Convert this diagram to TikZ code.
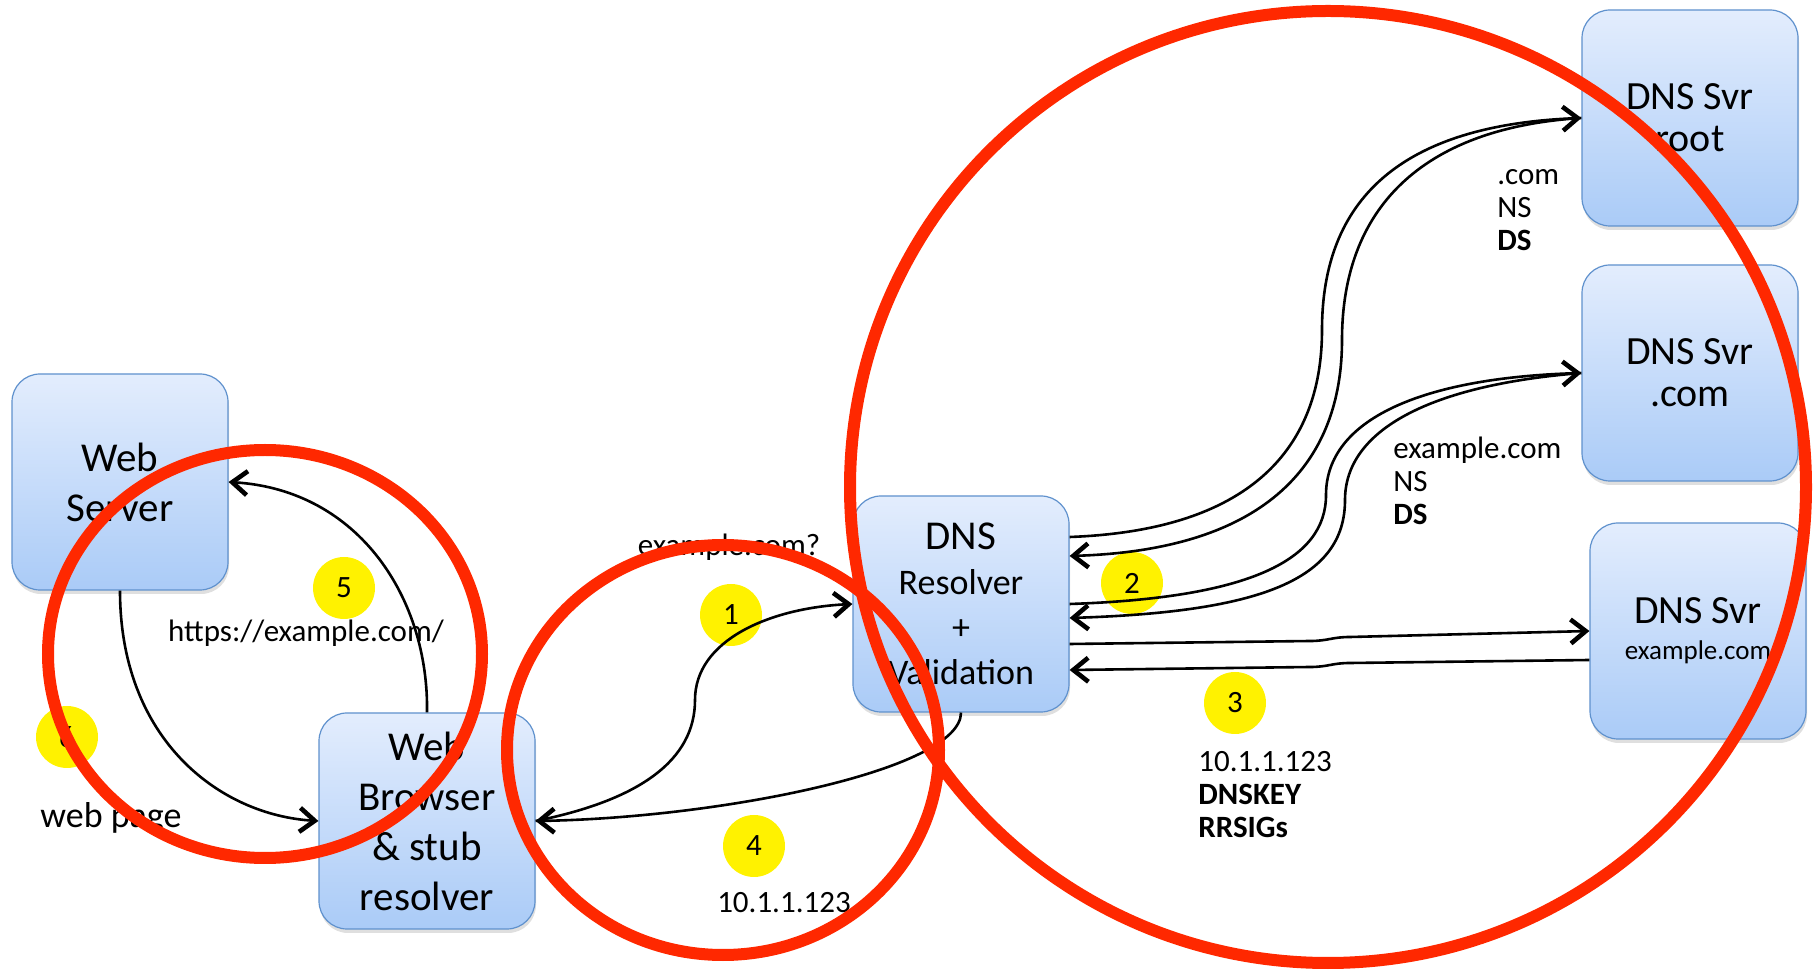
\documentclass[tikz,border=0pt]{standalone}
\usepackage{fontspec}
\setmainfont{Carlito}
\usetikzlibrary{arrows.meta, shadows}

\definecolor{boxtop}{RGB}{227,237,253}
\definecolor{boxbot}{RGB}{170,203,247}
\definecolor{boxline}{RGB}{95,145,205}
\definecolor{ringred}{RGB}{255,40,0}

\begin{document}
\begin{tikzpicture}[x=0.5pt, y=-0.5pt]
	\tikzstyle{hostbox}=[
	draw=boxline,
	line width=0.6pt,
	rounded corners=14pt,
	top color=boxtop,
	bottom color=boxbot,
	drop shadow={shadow xshift=0.5pt, shadow yshift=-2pt, opacity=0.25},
	minimum width=108pt,
	minimum height=108pt,
	inner sep=1pt,
	align=center,
	font=\fontsize{20.5}{25}\selectfont
	]
	\tikzstyle{stepdot}=[
	circle,
	fill=yellow,
	minimum size=31pt,
	inner sep=0pt,
	font=\fontsize{15.5}{18}\selectfont
	]
	\tikzstyle{note}=[
	align=left,
	inner sep=0pt,
	font=\fontsize{15.5}{16.5}\selectfont
	]
	\tikzstyle{flow}=[line width=1.3pt, -{Straight Barb[length=7.5pt, width=12pt, line width=2.3pt]}]
	\tikzstyle{ring}=[draw=ringred, line width=6pt]
	\useasboundingbox (0,0) rectangle (1817,972);
	\node[hostbox] (server) at (120,482) {Web\\Server};
	\node[hostbox] (browser) at (427,821) {Web\\Browser\\\& stub\\resolver};
	\node[hostbox, font=\fontsize{18}{22.5}\selectfont] (resolver) at (961,604) {{\fontsize{20.5}{22.5}\selectfont DNS}\\Resolver\\+\\Validation};
	\node[hostbox, font=\fontsize{20}{21}\selectfont] (root) at (1690,118) {DNS Svr\\root};
	\node[hostbox, font=\fontsize{20}{21}\selectfont] (dotcom) at (1690,373) {DNS Svr\\.com};
	\node[hostbox, font=\fontsize{20}{18}\selectfont] (exsvr) at (1698,631) {DNS Svr\\{\fontsize{13.5}{18}\selectfont example.com}};
	\node[stepdot] (n1) at (731,615) {1};
	\node[stepdot] (n2) at (1132,583) {2};
	\node[stepdot] (n3) at (1235,703) {3};
	\node[stepdot] (n4) at (754,846) {4};
	\node[stepdot] (n5) at (344,588) {5};
	\node[stepdot] (n6) at (67,737) {6};
	\draw[flow] (server.south) .. controls (120,740) and (220,815) .. (browser.west);
	\draw[flow] (browser.north) .. controls (429,600) and (360,490) .. (server.east);
	\draw[flow] (browser.east) .. controls (640,800) and (695,760) .. (695,700) .. controls (695,640) and (770,608) .. (resolver.west);
	\draw[flow] (resolver.south) .. controls (961,770) and (720,818) .. (browser.east);
	\draw[flow] ([yshift=33.5pt]resolver.east) .. controls (1260,530) and (1322,440) .. (1322,330) .. controls (1322,200) and (1400,125) .. (root.west);
	\draw[flow] (root.west) .. controls (1420,128) and (1342,210) .. (1342,340) .. controls (1342,460) and (1270,550) .. ([yshift=24pt]resolver.east);
	\draw[flow] (resolver.east) .. controls (1250,598) and (1326,560) .. (1326,495) .. controls (1326,420) and (1420,378) .. (dotcom.west);
	\draw[flow] (dotcom.west) .. controls (1430,385) and (1345,430) .. (1345,500) .. controls (1345,580) and (1260,612) .. ([yshift=-7pt]resolver.east);
	\draw[flow] ([yshift=-20pt]resolver.east) -- (1310,641) .. controls (1328,641) and (1332,637) .. (1350,637) -- (exsvr.west);
	\draw[flow] ([yshift=-14.5pt]exsvr.west) -- (1350,663) .. controls (1332,663) and (1328,667) .. (1310,667) -- ([yshift=-33pt]resolver.east);
	\node[note] (ask) at (729,547) {example.com?};
	\node[note] (url) at (306,633) {https://example.com/};
	\node[note, font=\fontsize{18}{20}\selectfont] (page) at (111,818) {web page};
	\node[note] (addr) at (784,903) {10.1.1.123};
	\node[note, anchor=west] (rrsets) at (1198,795) {10.1.1.123\\\textbf{DNSKEY}\\\textbf{RRSIGs}};
	\node[note, anchor=west] (comref) at (1497,210) {.com\\NS\\\textbf{DS}};
	\node[note, anchor=west] (exref) at (1393,481) {example.com\\NS\\\textbf{DS}};
	\draw[ring] (265,654) ellipse [x radius=108.5pt, y radius=102pt];
	\draw[ring] (723,750) ellipse [x radius=108pt, y radius=102.5pt];
	\draw[ring] (1328,487) ellipse [x radius=239pt, y radius=238pt];
\end{tikzpicture}
\end{document}
